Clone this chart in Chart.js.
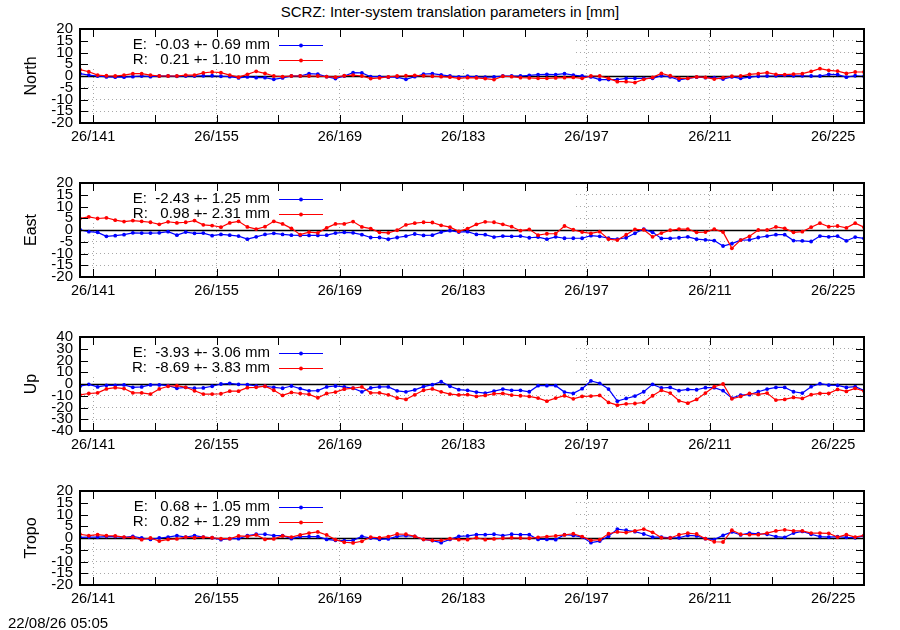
<!DOCTYPE html>
<html>
<head>
<meta charset="utf-8">
<title>SCRZ: Inter-system translation parameters</title>
<script src="https://cdn.jsdelivr.net/npm/chart.js@4.4.1/dist/chart.umd.min.js"></script>
<style>
  html, body { margin: 0; padding: 0; background: #fff; }
  body { width: 900px; height: 630px; position: relative; overflow: hidden;
         font-family: "Liberation Sans", Arial, sans-serif; color: #000; }
  .panel { position: absolute; left: 0; width: 900px; height: 146px; }
  #title { position: absolute; top: 3px; left: 0; width: 900px; text-align: center; font-size: 15px; }
  #stamp { position: absolute; left: 8px; top: 614px; font-size: 15px; }
</style>
</head>
<body>
<div id="title">SCRZ: Inter-system translation parameters in [mm]</div>
<div class="panel" style="top:13px"><canvas id="north"></canvas></div>
<div class="panel" style="top:167px"><canvas id="east"></canvas></div>
<div class="panel" style="top:321px"><canvas id="up"></canvas></div>
<div class="panel" style="top:475px"><canvas id="tropo"></canvas></div>
<div id="stamp">22/08/26 05:05</div>
<script>
// day of year (2026) of each daily solution, plotted at midday
const days = [
  139, 140, 141, 142, 143, 144, 145, 146, 147, 148,
  149, 150, 151, 152, 153, 154, 155, 156, 157, 158,
  159, 160, 161, 162, 163, 164, 165, 166, 167, 168,
  169, 170, 171, 172, 173, 174, 175, 176, 177, 178,
  179, 180, 181, 182, 183, 184, 185, 186, 187, 188,
  189, 190, 191, 192, 193, 194, 195, 196, 197, 198,
  199, 200, 201, 202, 203, 204, 205, 206, 207, 208,
  209, 210, 211, 212, 213, 214, 215, 216, 217, 218,
  219, 220, 221, 222, 223, 224, 225, 226, 227, 228
];

const xTickDays = [141, 148, 155, 162, 169, 176, 183, 190, 197, 204, 211, 218, 225];
const xTickLabels = ['26/141', '', '26/155', '', '26/169', '', '26/183', '', '26/197', '', '26/211', '', '26/225'];
const yTicks20 = [-20, -15, -10, -5, 0, 5, 10, 15, 20];
const yTicks40 = [-40, -30, -20, -10, 0, 10, 20, 30, 40];

// E = Galileo, R = GLONASS offsets [mm]
const northE = [
  1.0, 0.4, 0, -0.4, -0.5, -0.5, -0.3, 0, -0.3, 0,
  0, -0.1, 0, 0, 0.1, 0.1, -0.1, -0.3, -0.8, -0.4,
  -0.7, -0.7, -1.4, -0.8, 0, 0, 1.0, 0.8, -0.3, -1.1,
  0, 1.4, 1.3, -0.3, -0.3, -0.5, -0.5, -1.4, -0.3, 0.8,
  1.0, 0.5, 0, -0.4, -0.1, -0.4, -0.5, -0.4, 0, 0,
  0, 0.3, 0.6, 0.7, 0.6, 1.0, 0.4, 0, -0.4, -1.5,
  -1.5, -1.5, -1.0, -1.0, -1.0, -1.0, 0.1, -0.4, -1.7, -1.0,
  -0.5, -0.7, -0.7, -1.3, -0.4, -1.0, -0.5, -0.1, 0, 0.1,
  0.3, 0.1, 0.1, 0, 0, 0.7, 0.6, -0.5, 0.1, -0.1
];
const northR = [
  2.7, 1.8, 0.4, 0.1, 0, 0.4, 1.0, 1.0, 0.4, 0,
  0, 0, 0.4, 0.4, 1.3, 1.7, 1.4, 0.4, -0.5, 0.7,
  2.0, 1.1, 0, -0.3, 0, 0, 0, 0, -0.3, -0.5,
  0.1, 0.4, 0, -1.1, -0.8, -0.4, 0, 0.1, 0.3, 0.1,
  -0.1, -0.3, -0.5, -1.0, -0.7, -0.8, -1.1, -1.5, -0.1, -0.3,
  -0.7, -0.8, -1.0, -1.0, -0.8, -0.7, -0.6, -1.0, 0, 0,
  -1.0, -2.4, -2.4, -2.8, -1.4, -0.6, 1.1, 0.1, -1.0, -1.0,
  -0.4, -0.6, -1.3, -0.7, -0.1, 0, 0.7, 1.0, 1.4, 0.7,
  0.6, 0.8, 1.0, 2.0, 3.1, 2.4, 2.1, 1.1, 1.7, 1.7
];
const eastE = [
  0.1, -0.7, -1.0, -2.7, -2.4, -2.0, -1.2, -1.3, -1.3, -1.2,
  -0.7, -2.2, -0.9, -1.4, -1.3, -2.4, -1.9, -2.2, -2.6, -3.9,
  -2.9, -1.9, -1.4, -1.9, -2.2, -2.3, -2.3, -2.3, -2.2, -1.3,
  -1.0, -1.2, -2.0, -3.2, -3.2, -3.9, -3.2, -2.6, -1.7, -2.3,
  -2.2, -0.9, -0.3, -0.9, -0.7, -1.9, -2.0, -3.0, -2.6, -2.7,
  -2.6, -3.3, -3.0, -3.9, -2.9, -3.5, -3.5, -3.5, -2.4, -2.7,
  -3.5, -3.9, -3.3, -1.4, 0.4, -1.0, -3.6, -3.6, -3.3, -2.9,
  -3.9, -4.2, -4.5, -6.8, -5.8, -4.3, -4.2, -3.2, -2.6, -2.0,
  -2.0, -4.5, -4.6, -4.9, -2.6, -2.9, -2.6, -4.6, -3.0, -3.6
];
const eastR = [
  4.9, 5.6, 4.9, 5.2, 4.2, 3.6, 4.0, 3.7, 3.3, 2.4,
  3.5, 3.0, 3.3, 4.0, 2.2, 1.9, 1.2, 3.0, 3.7, 1.3,
  0.4, 1.4, 3.7, 2.6, 0.7, -2.0, -0.9, -1.2, 0.9, 2.6,
  2.6, 3.6, 1.3, 0.6, -1.0, -1.2, -0.1, 2.2, 2.9, 3.3,
  3.2, 2.0, 1.2, -0.6, 0.6, 2.4, 3.5, 3.3, 2.4, 1.4,
  -0.3, 0.3, -2.2, -1.6, -1.6, 1.7, 0.1, -0.9, -1.4, -0.7,
  -3.9, -4.3, -2.0, 0.3, 0.1, -2.9, -1.3, -0.1, 0.4, 0.4,
  -1.0, -0.9, 0.4, -0.9, -7.8, -4.3, -2.7, 0, 0, 1.3,
  0.7, -1.0, -0.7, 1.2, 2.9, 1.4, 1.7, 0.9, 2.9, 1.2
];
const upE = [
  -1.9, -0.3, -2.5, -1.1, -1.1, -0.8, -2.8, -2.5, -0.8, -0.8,
  -1.4, -3.6, -2.8, -3.6, -3.3, -1.9, 0, 0.6, -0.3, -0.6,
  -1.7, -1.9, -2.8, -3.6, -1.7, -3.9, -5.8, -5.6, -2.5, -1.7,
  -2.5, -3.6, -6.7, -3.3, -2.5, -2.5, -5.8, -6.7, -5.0, -2.2,
  -0.6, 1.9, -1.9, -4.8, -5.4, -6.9, -7.7, -6.0, -4.3, -5.4,
  -5.4, -6.6, -1.4, -1.4, -1.4, -6.9, -8.0, -4.0, 2.6, 0.6,
  -4.3, -14.6, -12.3, -10.3, -6.6, -0.3, -3.4, -2.9, -5.7, -4.6,
  -4.9, -3.1, -3.1, -5.7, -12.0, -9.4, -9.1, -6.6, -4.3, -2.9,
  -2.9, -6.6, -7.7, -2.3, 0.3, -0.9, -1.1, -2.9, -2.3, -5.4
];
const upR = [
  -9.2, -8.1, -7.5, -4.2, -3.1, -3.9, -7.5, -7.5, -8.6, -4.2,
  -1.9, -1.4, -2.8, -5.8, -8.6, -8.6, -8.3, -6.1, -6.1, -3.1,
  -2.8, -1.9, -5.3, -9.7, -7.2, -8.1, -8.9, -11.7, -8.1, -6.9,
  -4.4, -3.6, -2.5, -7.5, -7.5, -9.2, -11.9, -13.1, -9.2, -5.3,
  -4.2, -6.7, -8.6, -9.3, -9.1, -10.6, -9.7, -8.3, -8.0, -9.4,
  -10.0, -10.6, -12.0, -14.6, -12.0, -10.0, -12.6, -10.6, -10.3, -9.7,
  -15.7, -18.0, -16.9, -16.6, -15.7, -10.0, -5.4, -7.7, -14.3, -16.3,
  -13.1, -7.7, -2.3, 0, -12.6, -10.6, -8.0, -8.9, -7.7, -13.7,
  -13.1, -11.4, -12.3, -9.1, -8.0, -8.0, -4.6, -6.3, -3.7, -6.0
];
const tropoE = [
  0.3, 0.4, 0.4, 0.6, 0.6, 0.3, 0.7, 0, -0.6, 0,
  0.4, 1.0, 0.4, 1.0, 0.4, 0.1, -0.7, -0.3, -0.3, 1.0,
  1.6, 1.6, 1.0, 1.0, -0.3, 0.6, 0.6, 0.6, -0.6, -1.0,
  -1.1, -1.0, 0.7, 0, -0.6, -0.4, 0.7, 1.0, 0.7, -0.6,
  -1.1, -2.0, -0.6, 0.7, 0.9, 1.4, 1.4, 1.6, 1.0, 1.6,
  1.4, 1.4, -0.6, -0.6, -0.7, 1.4, 1.1, 0.4, -2.0, -1.3,
  0.7, 3.8, 3.3, 2.7, 1.7, 0.4, 0.4, 0.1, 0.1, 1.1,
  0.9, -0.3, -0.7, 1.1, 2.6, 1.3, 2.1, 1.8, 1.6, 0.6,
  0.3, 2.1, 2.8, 1.6, 0.6, 0.4, 0.6, 0.3, 0.1, 0.9
];
const tropoR = [
  1.6, 1.0, 1.4, 1.0, 0.9, 0.4, 0.3, -0.7, 0, -1.3,
  -0.6, -0.4, 0.4, 0.1, 0.4, 0.1, -0.3, -0.3, 0.9, 0.7,
  1.3, -0.6, -0.4, 0.9, 0.4, 1.3, 2.1, 2.6, 1.3, -0.7,
  -1.8, -2.1, -1.4, 0.4, 0.1, 0.6, 1.7, 1.6, 0.7, -0.6,
  -1.0, -1.0, -0.3, -0.7, -0.7, 0.1, -0.7, -0.4, -0.1, 0.1,
  0, -0.1, 0.3, 0.6, 0.9, 1.3, 1.8, 0.6, -1.0, -0.7,
  1.8, 2.6, 2.3, 3.0, 3.8, 2.4, 0.1, 0, 1.4, 2.1,
  1.7, -0.3, -1.6, -1.7, 3.3, 1.6, 1.4, 1.4, 2.1, 3.0,
  3.5, 3.0, 3.0, 2.1, 2.1, 2.0, 0.4, 1.4, 0.4, 1.1
];

const northKey = ['E:  -0.03 +- 0.69 mm', 'R:   0.21 +- 1.10 mm'];
const eastKey  = ['E:  -2.43 +- 1.25 mm', 'R:   0.98 +- 2.31 mm'];
const upKey    = ['E:  -3.93 +- 3.06 mm', 'R:  -8.69 +- 3.83 mm'];
const tropoKey = ['E:   0.68 +- 1.05 mm', 'R:   0.82 +- 1.29 mm'];

const BLUE = '#0000ff';
const RED = '#ff0000';
const GRID = '#a8a8a8';
const FONT = '"Liberation Sans", Arial, sans-serif';

Chart.defaults.font.family = FONT;
Chart.defaults.color = '#000';

// gnuplot look: opaque key box, zero axis, inward ticks, heavy border, key
const gnuFrame = {
  id: 'gnuFrame',
  beforeDatasetsDraw(chart) {
    const {ctx, chartArea: a, scales: {y}} = chart;
    ctx.save();
    ctx.fillStyle = '#fff';
    ctx.fillRect(a.left, a.top, 573 - a.left, 39);
    const y0 = Math.round(y.getPixelForValue(0)) + 0.5;
    ctx.strokeStyle = '#000';
    ctx.lineWidth = 1.5;
    ctx.beginPath();
    ctx.moveTo(a.left, y0);
    ctx.lineTo(a.right, y0);
    ctx.stroke();
    ctx.restore();
  },
  afterDatasetsDraw(chart, args, opts) {
    const {ctx, chartArea: a, scales: {x, y}} = chart;
    ctx.save();
    ctx.strokeStyle = '#000';
    ctx.lineWidth = 1;
    ctx.beginPath();
    y.ticks.forEach(t => {
      const py = Math.round(y.getPixelForValue(t.value)) + 0.5;
      ctx.moveTo(a.left, py); ctx.lineTo(a.left + 8, py);
      ctx.moveTo(a.right - 8, py); ctx.lineTo(a.right, py);
    });
    x.ticks.forEach(t => {
      const px = Math.round(x.getPixelForValue(t.value)) + 0.5;
      ctx.moveTo(px, a.top); ctx.lineTo(px, a.top + 8);
      ctx.moveTo(px, a.bottom - 8); ctx.lineTo(px, a.bottom);
    });
    ctx.stroke();
    ctx.lineWidth = 2;
    ctx.strokeRect(a.left, a.top, a.right - a.left, a.bottom - a.top);

    // key entries
    ctx.font = '15px ' + FONT;
    ctx.textAlign = 'right';
    ctx.textBaseline = 'middle';
    (opts.labels || []).forEach((txt, i) => {
      const ky = a.top + 16 + i * 15;
      ctx.fillStyle = '#000';
      ctx.fillText(txt, 270, ky);
      ctx.strokeStyle = opts.colors[i];
      ctx.lineWidth = 1;
      ctx.beginPath();
      ctx.moveTo(279, ky + 0.5);
      ctx.lineTo(323, ky + 0.5);
      ctx.stroke();
      ctx.fillStyle = opts.colors[i];
      ctx.beginPath();
      ctx.arc(301, ky + 0.5, 1.9, 0, Math.PI * 2);
      ctx.fill();
    });
    ctx.restore();
  }
};

function series(values, color, order) {
  return {
    data: days.map((d, i) => ({x: d + 0.5, y: values[i]})),
    borderColor: color,
    backgroundColor: color,
    borderWidth: 1.2,
    pointRadius: 1.9,
    pointBorderWidth: 0,
    pointStyle: 'circle',
    tension: 0,
    order: order
  };
}

function makePanel(id, name, yTicks, eVals, rVals, keyLabels) {
  const yMax = yTicks[yTicks.length - 1];
  return new Chart(document.getElementById(id), {
    type: 'line',
    data: { datasets: [series(eVals, BLUE, 1), series(rVals, RED, 0)] },
    options: {
      responsive: true,
      maintainAspectRatio: false,
      animation: false,
      events: [],
      layout: { padding: {left: 0, right: 36, top: 16, bottom: 0} },
      plugins: {
        legend: { display: false },
        tooltip: { enabled: false },
        gnuFrame: { labels: keyLabels, colors: [BLUE, RED] }
      },
      scales: {
        x: {
          type: 'linear',
          min: 139.5,
          max: 228.5,
          afterBuildTicks: s => { s.ticks = xTickDays.map(v => ({value: v})); },
          afterFit: s => { s.height = 36; },
          grid: {
            drawTicks: false,
            lineWidth: 1,
            color: c => (c.tick && xTickLabels[xTickDays.indexOf(c.tick.value)]) ? GRID : 'rgba(0,0,0,0)'
          },
          border: { display: false, dash: [1, 3] },
          ticks: {
            autoSkip: false,
            maxRotation: 0,
            padding: 5,
            font: { size: 14.5 },
            color: '#000',
            callback: v => xTickLabels[xTickDays.indexOf(v)] || ''
          }
        },
        y: {
          min: -yMax,
          max: yMax,
          afterBuildTicks: s => { s.ticks = yTicks.map(v => ({value: v})); },
          afterFit: s => { s.width = 80; },
          grid: {
            drawTicks: false,
            lineWidth: 1,
            color: c => (c.tick && c.tick.value !== 0 && Math.abs(c.tick.value) !== yMax) ? GRID : 'rgba(0,0,0,0)'
          },
          border: { display: false, dash: [1, 3] },
          ticks: {
            autoSkip: false,
            padding: 7,
            font: { size: 15 },
            color: '#000',
            callback: v => String(v)
          },
          title: {
            display: true,
            text: name,
            font: { size: 16 },
            color: '#000',
            padding: { top: 22, bottom: 0 }
          }
        }
      }
    },
    plugins: [gnuFrame]
  });
}

makePanel('north', 'North', yTicks20, northE, northR, northKey);
makePanel('east', 'East', yTicks20, eastE, eastR, eastKey);
makePanel('up', 'Up', yTicks40, upE, upR, upKey);
makePanel('tropo', 'Tropo', yTicks20, tropoE, tropoR, tropoKey);
</script>
</body>
</html>
